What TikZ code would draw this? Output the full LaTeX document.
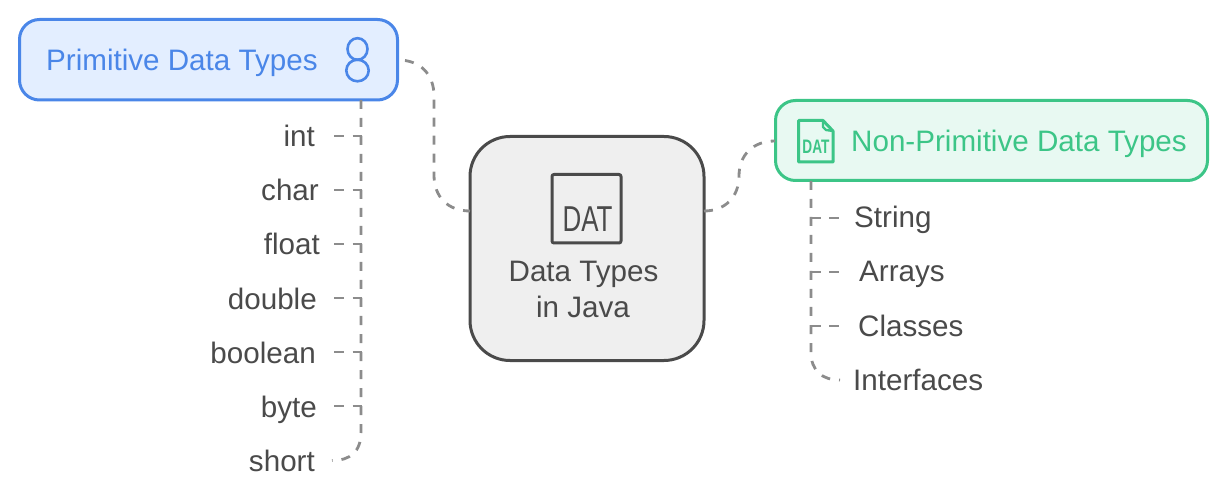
\documentclass[tikz,border=0pt]{standalone}
\usepackage{graphicx}
\usepackage{fontspec}
\setmainfont{Liberation Sans}
\definecolor{ink}{HTML}{4A4A4A}
\definecolor{linkgray}{HTML}{8C8C8C}
\definecolor{bluedraw}{HTML}{4A86E8}
\definecolor{bluefill}{HTML}{E3EEFF}
\definecolor{greendraw}{HTML}{3CC587}
\definecolor{greenfill}{HTML}{E8F9F2}
\definecolor{grayfill}{HTML}{EFEFEF}
\tikzset{
  x=1pt,y=-1pt,
  lbl/.style={font=\fontsize{29.6}{36}\selectfont,text=ink,inner sep=0pt},
  box/.style={rounded corners=#1,line width=3pt,inner sep=0pt,outer sep=0pt},
  conn/.style={draw=linkgray,line width=2.8pt,dash pattern=on 9pt off 9pt},
  leafL/.style={lbl,anchor=east,text height=29pt,text depth=7pt,inner ysep=0pt,inner xsep=#1},
  leafR/.style={lbl,anchor=west,text height=27pt,text depth=7pt,inner ysep=0pt,inner xsep=#1},
  iconline/.style={line width=3pt,line join=round},
}
\begin{document}
\begin{tikzpicture}
\useasboundingbox (0,0) rectangle (1227,497);
% boxes
\node[box=20pt,draw=bluedraw,fill=bluefill,minimum width=378pt,minimum height=80.5pt] (prim) at (208.5,59.75) {};
\node[box=40pt,draw=ink,fill=grayfill,minimum width=234pt,minimum height=224pt] (data) at (587,248.5) {};
\node[box=20pt,draw=greendraw,fill=greenfill,minimum width=432pt,minimum height=80pt] (nonp) at (991.5,140.5) {};
% box labels
\node[lbl,text=bluedraw,anchor=base west] (primt) at (46,70.5) {Primitive Data Types};
\node[lbl,text=greendraw,anchor=base west] (nonpt) at (851,151.5) {Non-Primitive Data Types};
\node[lbl,anchor=base] (datat1) at (583.5,281.5) {Data Types};
\node[lbl,anchor=base] (datat2) at (583,317) {in Java};
% icon: eight
\draw[bluedraw,line width=2.6pt] (357.5,49) circle[x radius=10pt,y radius=10.8pt];
\draw[bluedraw,line width=2.6pt] (357.5,70.5) circle[x radius=11.2pt,y radius=10.8pt];
% icon: data sheet
\draw[ink,iconline,rounded corners=2pt] (552,174.5) rectangle (621,243);
\node[inner sep=0pt,text=ink,anchor=base,font=\fontsize{36}{36}\selectfont] (dat) at (587.5,232) {\scalebox{0.72}[1]{DAT}};
% icon: file
\draw[greendraw,iconline] (823,120.5) -- (798.5,120.5) -- (798.5,162) -- (833,162) -- (833,131) -- cycle;
\draw[greendraw,line width=2.4pt,line join=round] (823,120.5) -- (823,127) -- ++(3,3) -- (833,131);
\node[inner sep=0pt,text=greendraw,anchor=base,font=\bfseries\fontsize{19.5}{20}\selectfont] (fdat) at (816,154) {\scalebox{0.7}[1]{DAT}};
% leaves, left
\node[leafL=19pt] (l1) at (334,136) {int};
\node[leafL=15pt] (l2) at (334,190) {char};
\node[leafL=14pt] (l3) at (334,244) {float};
\node[leafL=17pt] (l4) at (334,298) {double};
\node[leafL=18pt] (l5) at (334,352) {boolean};
\node[leafL=17pt] (l6) at (334,406) {byte};
\node[leafL=17pt] (l7) at (332,460.5) {short};
% leaves, right
\node[leafR=15.5pt] (r1) at (838.5,218) {String};
\node[leafR=20.5pt] (r2) at (838.5,272) {Arrays};
\node[leafR=19.5pt] (r3) at (838.5,326) {Classes};
\node[leafR=13pt] (r4) at (840,380) {Interfaces};
% junctions and bends
\coordinate (pt) at (361,100);
\coordinate (pb) at (361,432);
\coordinate (gt) at (811,181);
\coordinate (gb) at (811,352);
\coordinate (dl) at (470,211);
\coordinate (dr) at (704,211);
\coordinate (gl) at (775,141);
\coordinate (al) at (434,96);
\coordinate (bl) at (434,175);
\coordinate (cl) at (739,176);
% main connectors
\draw[conn,dash phase=11pt] (398,60) .. controls (420,60) and (434,74) .. (al) -- (bl) .. controls (434,197) and (448,211) .. (dl);
\draw[conn] (dr) .. controls (725,211) and (739,197) .. (cl) .. controls (739,155) and (753,141) .. (gl);
% trunks
\draw[conn] (pt) -- (pb) .. controls (361,452) and (350,460.5) .. (l7.east);
\draw[conn] (gt) -- (gb) .. controls (811,371) and (822,380) .. (r4.west);
% branches
\foreach \n/\y in {l1/136,l2/190,l3/244,l4/298,l5/352,l6/406}
  \draw[conn,dash pattern=on 10pt off 8.5pt] (\n.east) -- (362,\y);
\foreach \n/\y in {r1/218,r2/272,r3/326}
  \draw[conn,dash pattern=on 10pt off 8pt] (\n.west) -- (810,\y);
\end{tikzpicture}
\end{document}
